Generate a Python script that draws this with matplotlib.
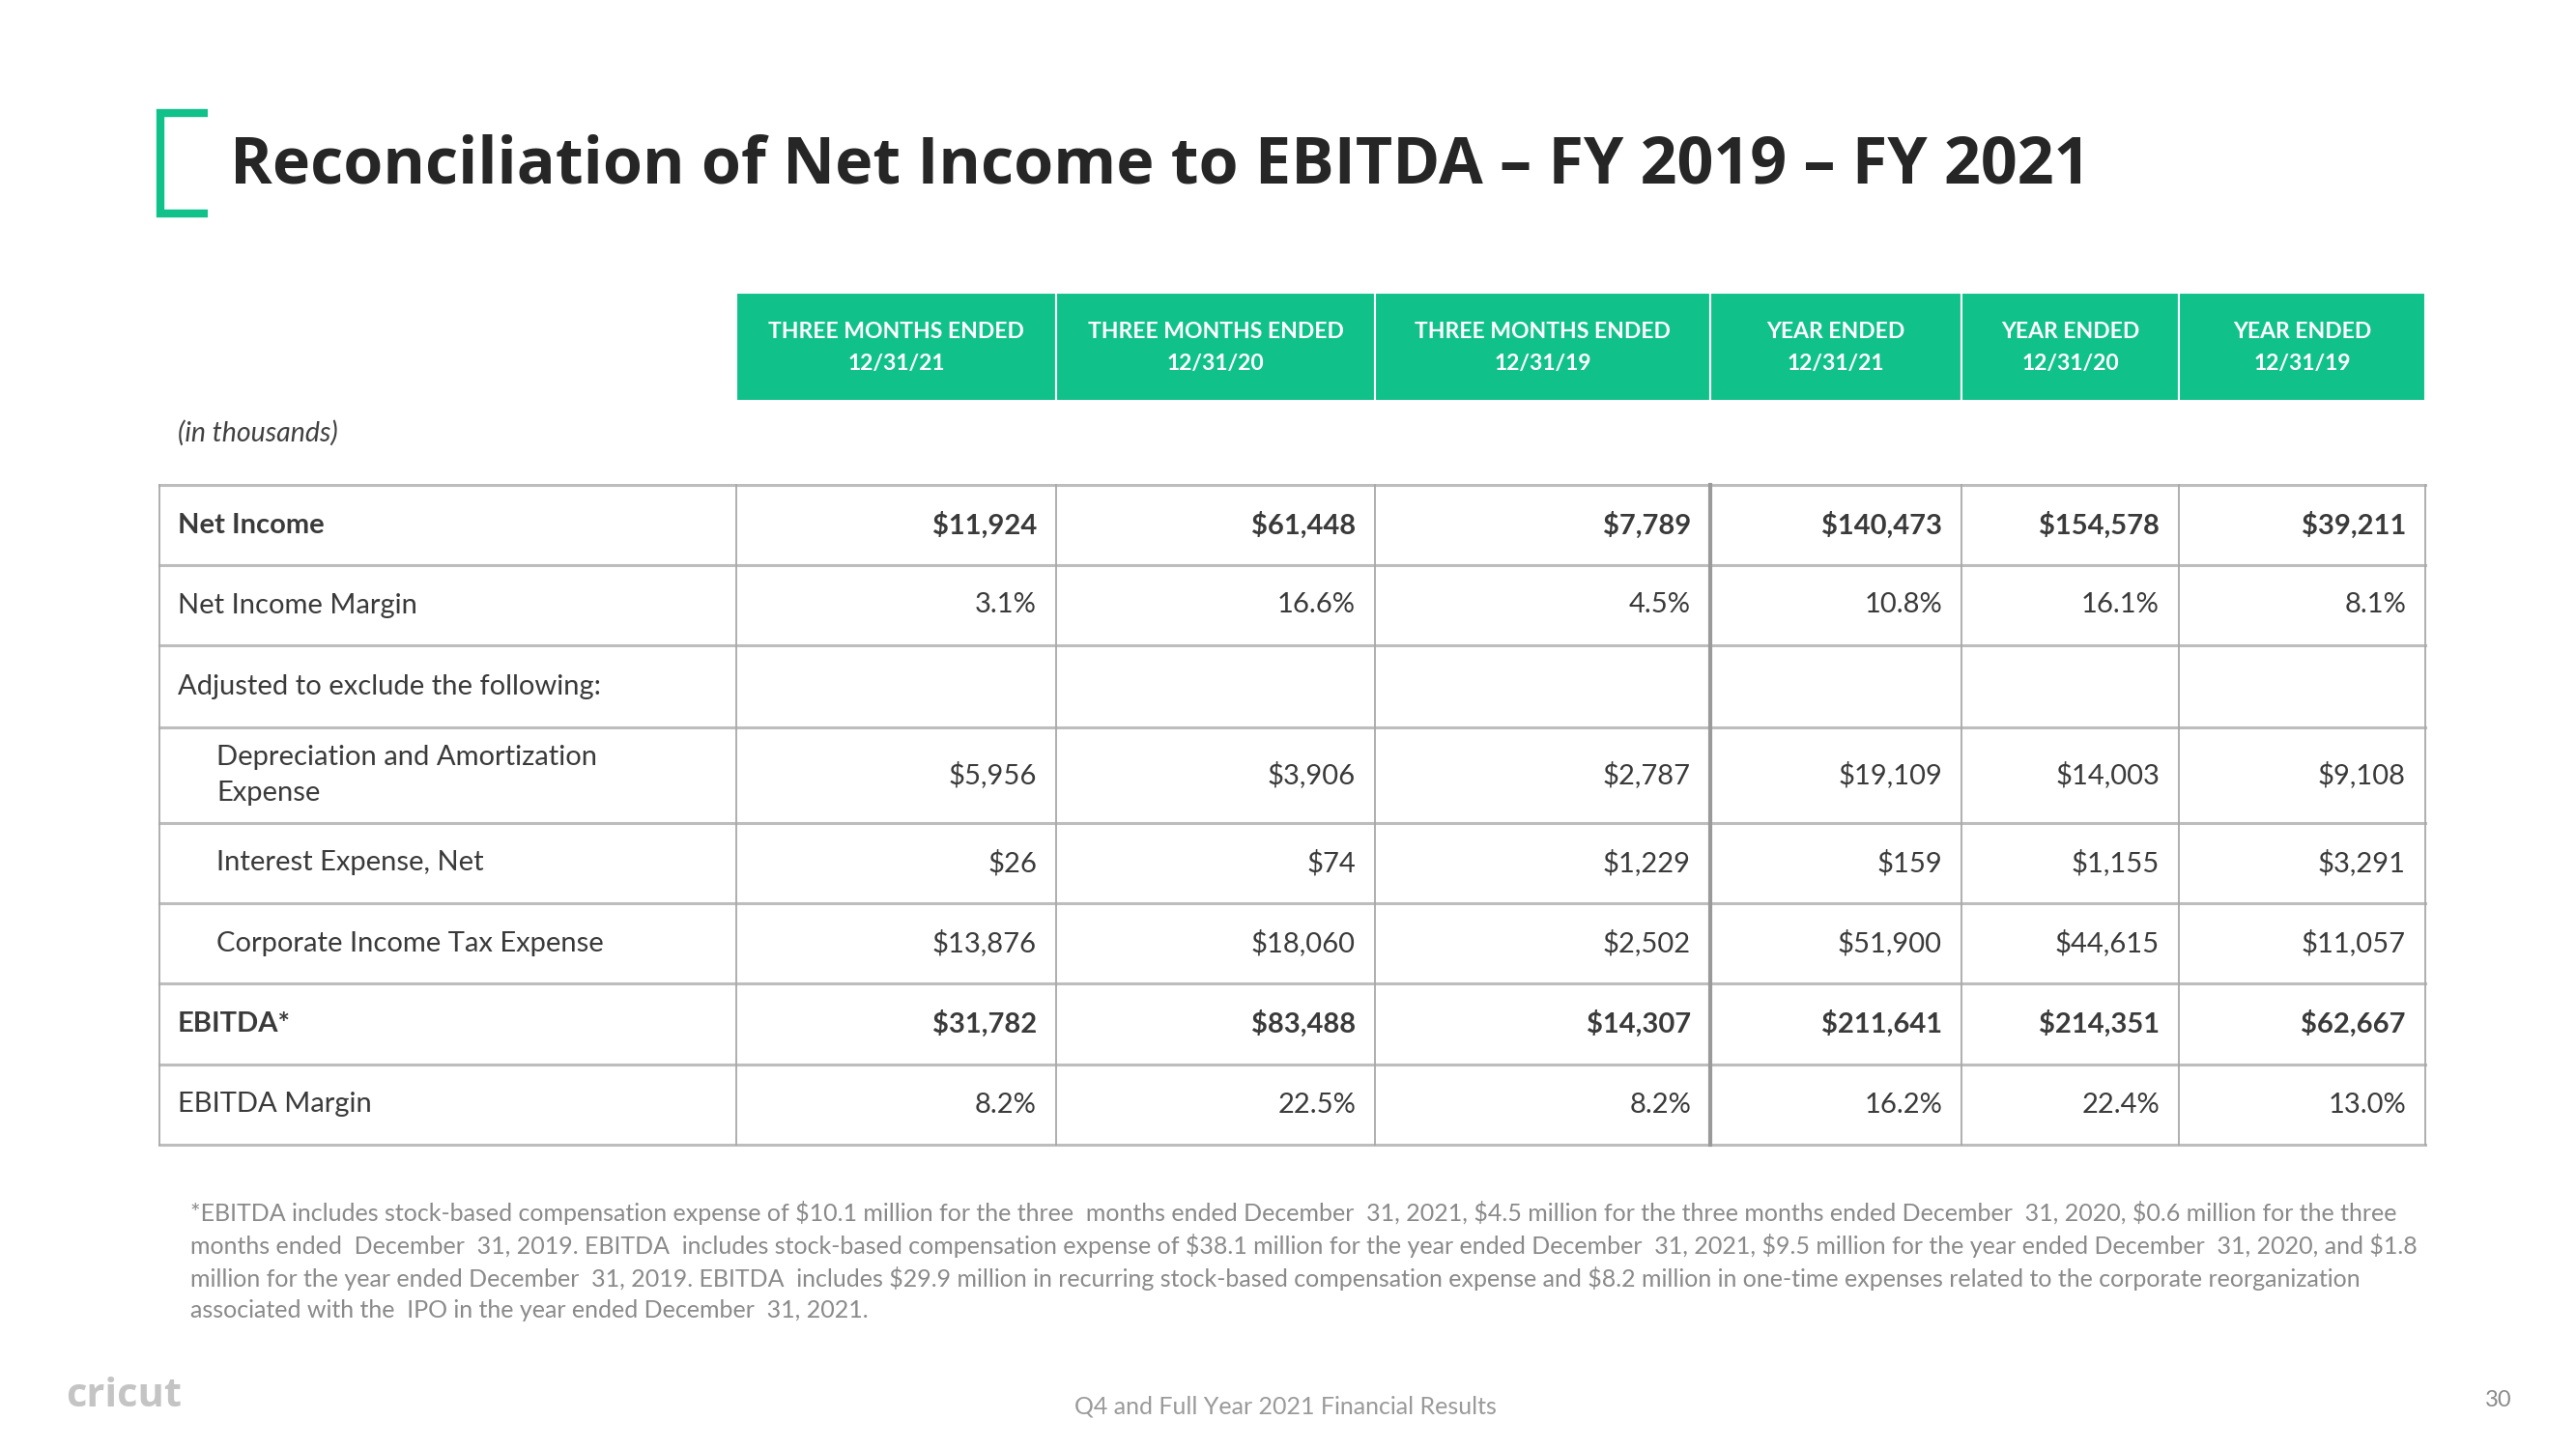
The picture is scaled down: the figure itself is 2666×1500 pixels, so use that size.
import matplotlib.pyplot as plt
from matplotlib.patches import Rectangle

plt.rcParams['text.parse_math'] = False

# Table contents (in thousands)
col_top = ['THREE MONTHS ENDED', 'THREE MONTHS ENDED', 'THREE MONTHS ENDED',
           'YEAR ENDED', 'YEAR ENDED', 'YEAR ENDED']
col_dates = ['12/31/21', '12/31/20', '12/31/19', '12/31/21', '12/31/20', '12/31/19']

net_income = [11924, 61448, 7789, 140473, 154578, 39211]
net_income_margin = [3.1, 16.6, 4.5, 10.8, 16.1, 8.1]
depreciation = [5956, 3906, 2787, 19109, 14003, 9108]
interest = [26, 74, 1229, 159, 1155, 3291]
income_tax = [13876, 18060, 2502, 51900, 44615, 11057]
ebitda = [31782, 83488, 14307, 211641, 214351, 62667]
ebitda_margin = [8.2, 22.5, 8.2, 16.2, 22.4, 13.0]

row_labels = ['Net Income', 'Net Income Margin', 'Adjusted to exclude the following:',
              'Depreciation and Amortization\nExpense', 'Interest Expense, Net',
              'Corporate Income Tax Expense', 'EBITDA*', 'EBITDA Margin']
row_bold = [True, False, False, False, False, False, True, False]
row_indent = [False, False, False, True, True, True, False, False]


def money(vals):
    return ['${:,}'.format(v) for v in vals]


def pct(vals):
    return ['{:.1f}%'.format(v) for v in vals]


row_values = [money(net_income), pct(net_income_margin), [''] * 6,
              money(depreciation), money(interest), money(income_tax),
              money(ebitda), pct(ebitda_margin)]

footnote = [
    '*EBITDA includes stock-based compensation expense of $10.1 million for the three  months ended December  31, 2021, $4.5 million for the three months ended December  31, 2020, $0.6 million for the three',
    'months ended  December  31, 2019. EBITDA  includes stock-based compensation expense of $38.1 million for the year ended December  31, 2021, $9.5 million for the year ended December  31, 2020, and $1.8',
    'million for the year ended December  31, 2019. EBITDA  includes $29.9 million in recurring stock-based compensation expense and $8.2 million in one-time expenses related to the corporate reorganization',
    'associated with the  IPO in the year ended December  31, 2021.',
]

green = '#10C28A'
dark = '#262626'
body = '#3A3A3A'
grid = '#BDBDBD'
body_font = 'Lato'

fig = plt.figure(figsize=(26.66, 15), dpi=100)
ax = fig.add_axes([0, 0, 1, 1])
ax.set_xlim(0, 2666)
ax.set_ylim(1500, 0)
ax.axis('off')

# Title with green bracket
ax.plot([215, 166, 166, 215], [117, 117, 221, 221], color=green, lw=6,
        solid_capstyle='butt', solid_joinstyle='miter')
ax.text(238, 172, 'Reconciliation of Net Income to EBITDA \u2013 FY 2019 \u2013 FY 2021',
        fontsize=47.8, fontweight='bold', family='Open Sans', color=dark, va='center')

# Column layout
col_x = [762, 1093, 1423, 1770, 2030, 2255, 2510]
row_y = [502, 585, 668, 753, 852, 935, 1018, 1102, 1185]
table_left = 165

# Header
for i in range(6):
    x0, x1 = col_x[i], col_x[i + 1]
    ax.add_patch(Rectangle((x0, 303), x1 - x0, 112, facecolor=green,
                           edgecolor='white', lw=1.5))
    xc = (x0 + x1) / 2
    ax.text(xc, 343, col_top[i], fontsize=16.5, fontweight='bold', family=body_font,
            color='white', ha='center', va='center')
    ax.text(xc, 376, col_dates[i], fontsize=16.5, fontweight='bold', family=body_font,
            color='white', ha='center', va='center')

ax.text(184, 448, '(in thousands)', fontsize=20.5, style='italic', family=body_font,
        color='#404040', va='center')

# Grid lines
for y in row_y:
    ax.plot([table_left, col_x[-1]], [y, y], color=grid, lw=2.2, zorder=1)
for x in [table_left] + col_x:
    lw = 3 if x == 1770 else 1.3
    c = '#9A9A9A' if x == 1770 else '#A8A8A8'
    ax.plot([x, x], [row_y[0], row_y[-1]], color=c, lw=lw, zorder=2)

# Rows
for r, label in enumerate(row_labels):
    yc = (row_y[r] + row_y[r + 1]) / 2
    lx = 224 if row_indent[r] else 184
    ax.text(lx, yc, label, fontsize=21, fontweight='bold' if row_bold[r] else 'normal',
            family=body_font, color=body, va='center', linespacing=1.5)
    for c, val in enumerate(row_values[r]):
        ax.text(col_x[c + 1] - 20, yc, val, fontsize=21,
                fontweight='bold' if row_bold[r] else 'normal',
                family=body_font, color=body, ha='right', va='center')

# Footnote
for i, line in enumerate(footnote):
    ax.text(197, 1256 + i * 33.5, line, fontsize=18, family=body_font,
            color='#8A8A8A', va='center')

# Footer
ax.text(68, 1446, 'cricut', fontsize=30, family='Open Sans', color='#C4C4C4',
        va='center', fontweight='bold')
ax.text(1330, 1456, 'Q4 and Full Year 2021 Financial Results', fontsize=18,
        family=body_font, color='#9A9A9A', ha='center', va='center')
ax.text(2586, 1450, '30', fontsize=17, family=body_font, color='#8A8A8A',
        ha='center', va='center')

fig.savefig('out.png', dpi=100, facecolor='white')
